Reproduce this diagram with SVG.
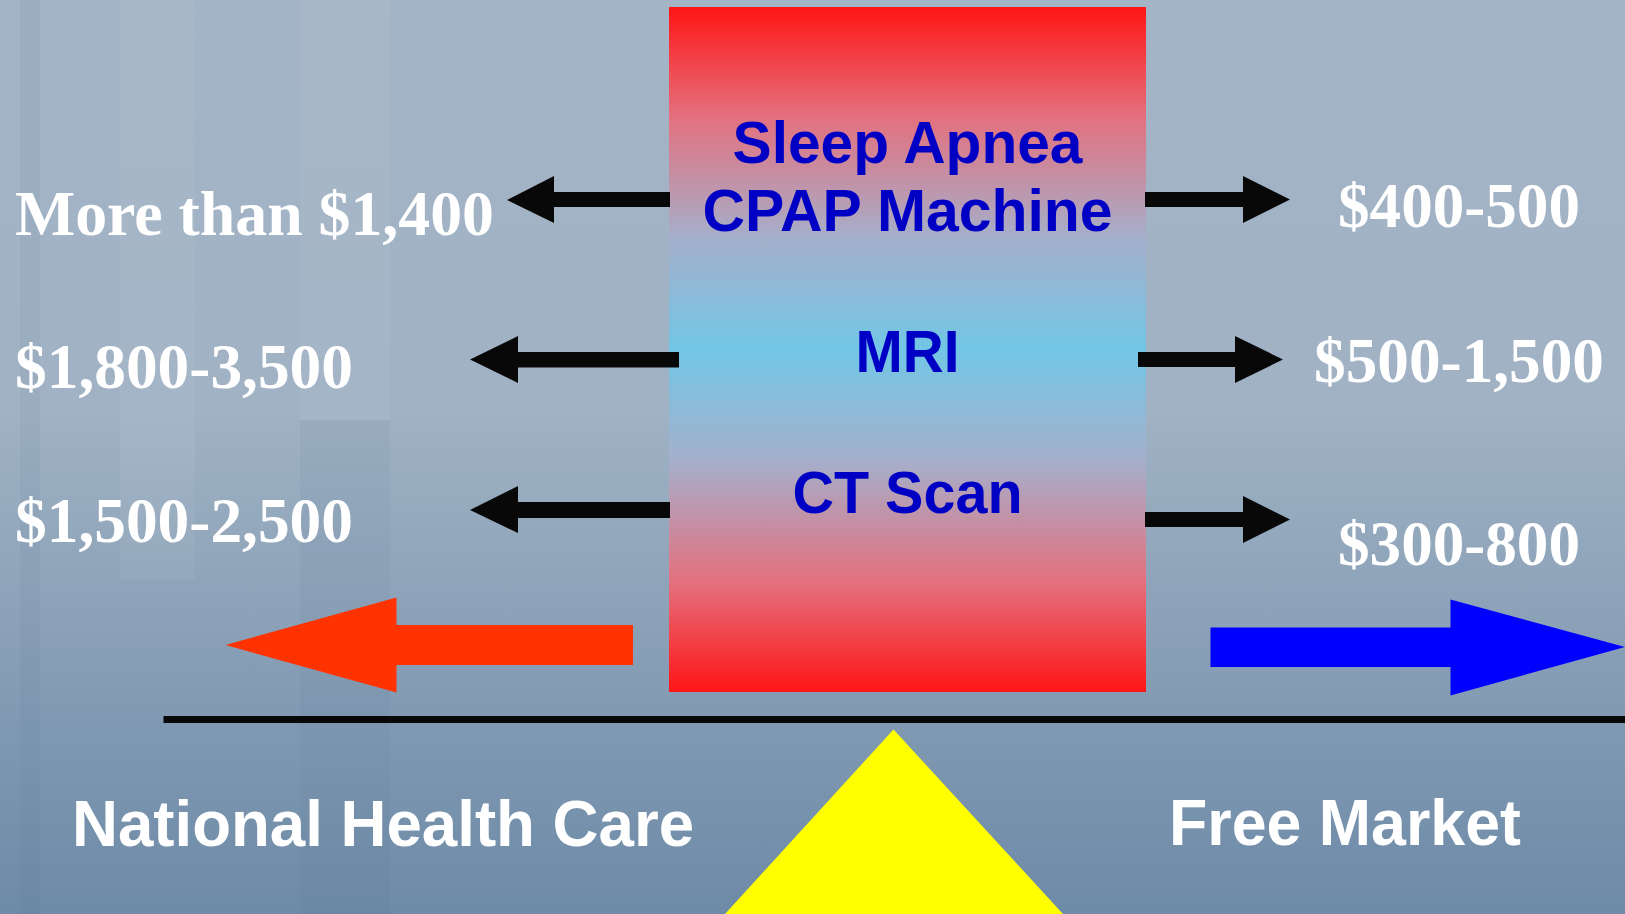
<svg xmlns="http://www.w3.org/2000/svg" width="1625" height="914" viewBox="0 0 1625 914">
  <defs>
    <linearGradient id="bg" x1="0" y1="0" x2="0" y2="1">
      <stop offset="0" stop-color="#a3b4c6"/>
      <stop offset="0.45" stop-color="#a0b2c4"/>
      <stop offset="1" stop-color="#6d8aa7"/>
    </linearGradient>
    <linearGradient id="boxfill" x1="0" y1="0" x2="0" y2="1">
      <stop offset="0" stop-color="#ff1515"/>
      <stop offset="0.16" stop-color="#e4707e"/>
      <stop offset="0.34" stop-color="#a4b0cc"/>
      <stop offset="0.5" stop-color="#72c6e6"/>
      <stop offset="0.66" stop-color="#a4b0cc"/>
      <stop offset="0.84" stop-color="#e4707e"/>
      <stop offset="1" stop-color="#ff1515"/>
    </linearGradient>
    <style>
      .item { font-family: "Liberation Sans", Arial, sans-serif; font-weight: bold; font-size: 60px; fill: #0000c4; text-anchor: middle; }
      .price { font-family: "Liberation Serif", "Times New Roman", serif; font-weight: bold; font-size: 64px; fill: #ffffff; }
      .side { font-family: "Liberation Sans", Arial, sans-serif; font-weight: bold; font-size: 64px; fill: #ffffff; }
      .blk { fill: #080808; }
    </style>
  </defs>

  <rect id="background" x="0" y="0" width="1625" height="914" fill="url(#bg)"/>
  <g id="bg-texture" fill="#ffffff" opacity="0.05">
    <rect x="120" y="0" width="75" height="580"/>
    <rect x="300" y="0" width="90" height="420"/>
  </g>
  <g id="bg-texture-dark" fill="#5a7490" opacity="0.08">
    <rect x="300" y="420" width="90" height="494"/>
    <rect x="20" y="0" width="20" height="914"/>
  </g>

  <g id="node-box">
    <rect x="669" y="7" width="477" height="685" fill="url(#boxfill)"/>
    <text class="item" x="907.5" y="163" textLength="350" lengthAdjust="spacingAndGlyphs">Sleep Apnea</text>
    <text class="item" x="907.5" y="231" textLength="410" lengthAdjust="spacingAndGlyphs">CPAP Machine</text>
    <text class="item" x="907.5" y="372" textLength="104" lengthAdjust="spacingAndGlyphs">MRI</text>
    <text class="item" x="907.5" y="513" textLength="230" lengthAdjust="spacingAndGlyphs">CT Scan</text>
  </g>

  <g id="node-left-prices">
    <text class="price" x="15" y="235" textLength="479" lengthAdjust="spacingAndGlyphs">More than $1,400</text>
    <text class="price" x="15" y="388" textLength="338" lengthAdjust="spacingAndGlyphs">$1,800-3,500</text>
    <text class="price" x="15" y="542" textLength="338" lengthAdjust="spacingAndGlyphs">$1,500-2,500</text>
  </g>

  <g id="node-right-prices">
    <text class="price" x="1338" y="227" textLength="242" lengthAdjust="spacingAndGlyphs">$400-500</text>
    <text class="price" x="1314" y="382" textLength="290" lengthAdjust="spacingAndGlyphs">$500-1,500</text>
    <text class="price" x="1338" y="565" textLength="242" lengthAdjust="spacingAndGlyphs">$300-800</text>
  </g>

  <g id="connectors">
    <polygon class="blk" points="507,200 554,176 554,192 670,192 670,207 554,207 554,223"/>
    <polygon class="blk" points="470,359.5 518,336 518,352 679,352 679,367.5 518,367.5 518,383"/>
    <polygon class="blk" points="470,510 518,486 518,502 670,502 670,518 518,518 518,533"/>
    <polygon class="blk" points="1145,192 1243,192 1243,176 1290,199.5 1243,223 1243,207 1145,207"/>
    <polygon class="blk" points="1138,352 1235,352 1235,336 1283,359.5 1235,383 1235,367 1138,367"/>
    <polygon class="blk" points="1145,512 1243,512 1243,496 1290,519.5 1243,543 1243,527 1145,527"/>
  </g>

  <g id="node-red-arrow">
    <polygon fill="#ff3300" points="633,625 396.5,625 396.5,597.5 225.5,645 396.5,692.5 396.5,665 633,665"/>
  </g>
  <g id="node-blue-arrow">
    <polygon fill="#0000ff" points="1210.5,627.5 1450.5,627.5 1450.5,599.5 1625,647 1450.5,695.5 1450.5,667 1210.5,667"/>
  </g>

  <g id="node-beam">
    <rect x="163.5" y="716" width="1461.5" height="7" fill="#080808"/>
  </g>
  <g id="node-fulcrum">
    <polygon fill="#ffff00" points="893.5,729.5 725,914 1063,914"/>
  </g>

  <g id="node-labels">
    <text class="side" x="72" y="846" textLength="622" lengthAdjust="spacingAndGlyphs">National Health Care</text>
    <text class="side" x="1169" y="845" textLength="352" lengthAdjust="spacingAndGlyphs">Free Market</text>
  </g>
</svg>
